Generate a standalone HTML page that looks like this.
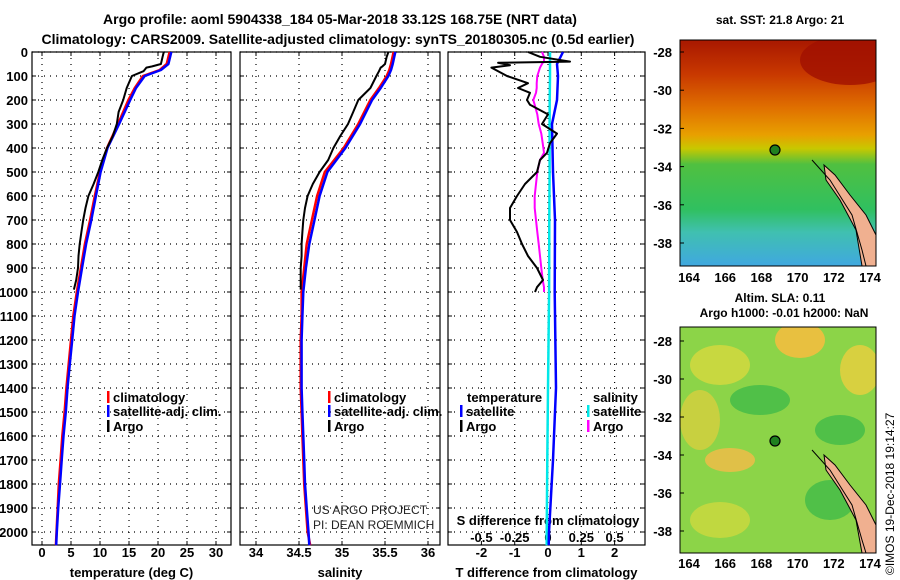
<!DOCTYPE html>
<html><head><meta charset="utf-8"><style>
body{margin:0;background:#fff;}
svg{display:block;font-family:"Liberation Sans",Arial,sans-serif;}
.b{font-weight:bold;font-size:13px;}
</style></head><body>
<svg id="chart" width="900" height="580" viewBox="0 0 900 580">
<defs>
<linearGradient id="sst" x1="0" y1="0" x2="0" y2="1">
<stop offset="0" stop-color="#a81800"/><stop offset="0.15" stop-color="#c83800"/><stop offset="0.3" stop-color="#e07000"/>
<stop offset="0.42" stop-color="#e8a000"/><stop offset="0.48" stop-color="#c8c800"/><stop offset="0.55" stop-color="#50c040"/>
<stop offset="0.75" stop-color="#30c060"/><stop offset="0.85" stop-color="#40c0b0"/><stop offset="1" stop-color="#40a8e0"/>
</linearGradient>
<clipPath id="m1"><rect x="680" y="40" width="196" height="226"/></clipPath>
<clipPath id="m2"><rect x="680" y="327" width="196" height="226"/></clipPath>
</defs>
<text x="340" y="24" text-anchor="middle" class="b" style="font-size:14px">Argo profile: aoml 5904338_184 05-Mar-2018 33.12S 168.75E (NRT data)</text>
<text x="338" y="44" text-anchor="middle" class="b" style="font-size:14px">Climatology: CARS2009. Satellite-adjusted climatology: synTS_20180305.nc (0.5d earlier)</text>
<g id="panels"></g>
<g>
<text x="780" y="24" text-anchor="middle" class="b" style="font-size:12px">sat. SST: 21.8 Argo: 21</text>
<g clip-path="url(#m1)">
<rect x="680" y="40" width="196" height="226" fill="url(#sst)"/>
<ellipse cx="850" cy="60" rx="50" ry="25" fill="#a01000" opacity="0.8"/>
<polygon points="824,165 835,175 850,195 866,215 876,235 876,266 862,266 856,230 840,200 826,180" fill="#f0b090" stroke="#000" stroke-width="1"/>
<polyline points="812,160 830,180 852,215 862,250 866,266" fill="none" stroke="#000" stroke-width="1"/>
<circle cx="775" cy="150" r="5" fill="#208020" stroke="#000" stroke-width="1.2"/>
</g>
<rect x="680" y="40" width="196" height="226" fill="none" stroke="#000"/>
</g>
<g>
<text x="780" y="302" text-anchor="middle" class="b" style="font-size:12px">Altim. SLA: 0.11</text>
<text x="784" y="317" text-anchor="middle" class="b" style="font-size:12px">Argo h1000: -0.01 h2000: NaN</text>
<g clip-path="url(#m2)">
<rect x="680" y="327" width="196" height="226" fill="#8cd448"/>
<ellipse cx="800" cy="340" rx="25" ry="18" fill="#e8c040"/>
<ellipse cx="720" cy="365" rx="30" ry="20" fill="#c8d840"/>
<ellipse cx="860" cy="370" rx="20" ry="25" fill="#d8d040"/>
<ellipse cx="700" cy="420" rx="20" ry="30" fill="#c8d040"/>
<ellipse cx="730" cy="460" rx="25" ry="12" fill="#e0c048"/>
<ellipse cx="760" cy="400" rx="30" ry="15" fill="#50c048"/>
<ellipse cx="840" cy="430" rx="25" ry="15" fill="#50c048"/>
<ellipse cx="830" cy="500" rx="25" ry="20" fill="#50c048"/>
<ellipse cx="720" cy="520" rx="30" ry="18" fill="#c0d840"/>
<polygon points="824,455 835,465 850,485 866,505 876,525 876,553 862,553 856,520 840,490 826,470" fill="#f0b090" stroke="#000" stroke-width="1"/>
<polyline points="812,450 830,470 852,505 862,540 866,553" fill="none" stroke="#000" stroke-width="1"/>
<circle cx="775" cy="441" r="5" fill="#208020" stroke="#000" stroke-width="1.2"/>
</g>
<rect x="680" y="327" width="196" height="226" fill="none" stroke="#000"/>
</g>
<g id="mapaxes"></g>
<text transform="translate(894,575) rotate(-90)" style="font-size:12px">©IMOS 19-Dec-2018 19:14:27</text>
</svg>
<script>
const depthTicks=[0,100,200,300,400,500,600,700,800,900,1000,1100,1200,1300,1400,1500,1600,1700,1800,1900,2000];
const tTicks=[0,5,10,15,20,25,30];
const sTicks=[34,34.5,35,35.5,36];
const dTicks=[-2,-1,0,1,2];
const sdTicks=[-0.5,-0.25,0,0.25,0.5];
const climDepth=[0,50,75,100,150,200,300,400,500,600,700,800,900,1000,1100,1200,1300,1400,1500,1600,1700,1800,1900,2000,2055];
const climTemp=[22,21.5,20.3,17.4,16,14.9,13.1,11.2,10,9.1,8.3,7.4,6.7,6.0,5.4,5.0,4.6,4.2,3.9,3.5,3.2,2.9,2.7,2.5,2.4];
const satTemp=[22.3,21.8,20.5,17.7,16.2,15.2,13.3,11.3,10.1,9.3,8.5,7.6,6.9,6.2,5.6,5.2,4.8,4.4,4.1,3.7,3.4,3.1,2.8,2.55,2.45];
const climSal=[35.6,35.57,35.55,35.52,35.43,35.33,35.19,35.02,34.8,34.71,34.65,34.59,34.56,34.53,34.53,34.52,34.52,34.52,34.53,34.54,34.55,34.56,34.58,34.6,34.63];
const satSal=[35.62,35.59,35.57,35.54,35.45,35.35,35.21,35.04,34.83,34.74,34.68,34.62,34.58,34.55,34.54,34.53,34.53,34.53,34.54,34.55,34.56,34.57,34.59,34.61,34.62];
const argoDepth=[0,20,50,60,65,80,100,150,200,250,300,350,400,450,500,550,600,650,700,750,800,850,900,950,990];
const argoTemp=[21,20.8,20.5,19,18,17.5,15.5,14.6,14,13.2,12.9,12.2,11.2,10.4,9.7,8.9,8.0,7.5,7.1,6.8,6.5,6.3,6.2,5.9,5.5];
const argoSal=[35.54,35.52,35.5,35.47,35.45,35.43,35.4,35.33,35.19,35.13,35.07,34.98,34.9,34.84,34.74,34.66,34.6,34.57,34.55,34.54,34.53,34.53,34.52,34.52,34.52];
const diffDepth=[0,20,40,45,55,65,100,130,150,170,200,220,260,300,340,380,420,450,500,550,600,650,700,750,800,850,900,950,980,1000];
const argoTDiff=[-0.6,-0.24,0.66,-1.5,-1.14,-1.7,-1.23,-0.6,-0.9,-0.54,-0.63,-0.54,0,-0.18,0.27,0.06,-0.03,-0.24,-0.33,-0.69,-0.93,-1.14,-1.14,-0.93,-0.78,-0.6,-0.33,-0.15,-0.33,-0.39];
const argoSDiff=[-0.045,-0.03,-0.03,-0.04,-0.05,-0.06,-0.08,-0.085,-0.085,-0.09,-0.11,-0.1,-0.08,-0.07,-0.05,-0.04,-0.03,-0.06,-0.08,-0.09,-0.1,-0.1,-0.09,-0.08,-0.07,-0.06,-0.05,-0.04,-0.03,-0.03];
const satDepth=[0,50,100,200,300,500,700,1000,1400,1700,2000,2055];
const satTDiff=[0.45,0.27,0.3,0.27,0.12,0.15,0.21,0.2,0.24,0.15,0.03,0.02];
const satSDiff=[0.015,0.015,0.015,0.013,0.012,0.012,0.01,0.008,0.0,-0.005,-0.01,-0.01];
const latTicks=[-28,-30,-32,-34,-36,-38];
const lonTicks=[164,166,168,170,172,174];
const NS='http://www.w3.org/2000/svg';
const yD=d=>52+d*0.24;
const P1={l:32,r:231,x:v=>42+v*5.8};
const P2={l:240,r:440,x:v=>256+(v-34)*86};
const P3={l:448,r:645,x:v=>548+v*33.3};
const xS=v=>548+v*133.2;
const yTop=52,yBot=545;
const g=document.getElementById('panels');
function el(tag,attrs,parent){const e=document.createElementNS(NS,tag);for(const k in attrs)e.setAttribute(k,attrs[k]);(parent||g).appendChild(e);return e;}
function txt(x,y,s,anchor,cls,parent){const t=el('text',{x:x,y:y,'text-anchor':anchor||'middle','class':cls||'b'},parent);t.textContent=s;return t;}
function line(xs,ds,fx,color,w,name){
  const pts=xs.map((v,i)=>fx(v).toFixed(1)+','+yD(ds[i]).toFixed(1)).join(' ');
  const p=el('polyline',{points:pts,fill:'none',stroke:color,'stroke-width':w,'stroke-linejoin':'round'});
  
  
}
function panel(P,ticks,fmt,label,name){
  const pg=el('g',{});
  
  
  depthTicks.forEach(d=>{el('line',{x1:P.l,x2:P.r,y1:yD(d),y2:yD(d),stroke:'#000','stroke-dasharray':'1,5','stroke-width':1.2},pg);
    el('line',{x1:P.l,x2:P.l+4,y1:yD(d),y2:yD(d),stroke:'#000'},pg);el('line',{x1:P.r-4,x2:P.r,y1:yD(d),y2:yD(d),stroke:'#000'},pg);});
  ticks.forEach(v=>{const x=P.x(v);el('line',{x1:x,x2:x,y1:yTop,y2:yBot,stroke:'#000','stroke-dasharray':'1,5','stroke-width':1.2},pg);
    el('line',{x1:x,x2:x,y1:yBot-4,y2:yBot,stroke:'#000'},pg);el('line',{x1:x,x2:x,y1:yTop,y2:yTop+4,stroke:'#000'},pg);
    txt(x,557,fmt(v),'middle','b',pg);});
  el('rect',{x:P.l,y:yTop,width:P.r-P.l,height:yBot-yTop,fill:'none',stroke:'#000','stroke-width':1.2},pg);
  const t=txt((P.l+P.r)/2,577,label,'middle','b',pg);
  
  
}
panel(P1,tTicks,v=>String(v),'temperature (deg C)','temperature-panel');
panel(P2,sTicks,v=>String(v),'salinity','salinity-panel');
panel(P3,dTicks,v=>String(v),'T difference from climatology','difference-panel');
depthTicks.forEach(d=>{const t=txt(28,yD(d)+5,String(d),'end');});
sdTicks.forEach(v=>txt(xS(v),542,String(v)));
txt(548,525,'S difference from climatology');
line(climTemp,climDepth,P1.x,'#ff0000',2.5,'temp-climatology-line');
line(satTemp,climDepth,P1.x,'#0000ff',2.5,'temp-satellite-line');
line(argoTemp,argoDepth,P1.x,'#000',2,'temp-argo-line');
line(climSal,climDepth,P2.x,'#ff0000',2.5,'sal-climatology-line');
line(satSal,climDepth,P2.x,'#0000ff',2.5,'sal-satellite-line');
line(argoSal,argoDepth,P2.x,'#000',2,'sal-argo-line');
line(satSDiff,satDepth,xS,'#00e8e8',2.5,'sdiff-satellite-line');
line(satTDiff,satDepth,P3.x,'#0000ff',2.5,'tdiff-satellite-line');
line(argoSDiff,diffDepth,xS,'#ff00ff',2,'sdiff-argo-line');
line(argoTDiff,diffDepth,P3.x,'#000',2,'tdiff-argo-line');
function leg(x,y,c,s){el('rect',{x:x,y:y-11,width:2.5,height:12,fill:c});txt(x+6,y,s,'start');}
leg(107,402,'#ff0000','climatology');leg(107,416,'#0000ff','satellite-adj. clim.');leg(107,431,'#000','Argo');
leg(328,402,'#ff0000','climatology');leg(328,416,'#0000ff','satellite-adj. clim.');leg(328,431,'#000','Argo');
txt(467,402,'temperature','start');leg(460,416,'#0000ff','satellite');leg(460,431,'#000','Argo');
txt(593,402,'salinity','start');leg(587,416,'#00e8e8','satellite');leg(587,431,'#ff00ff','Argo');
const a1=el('text',{x:313,y:514,style:'font-size:12px;fill:#222'});a1.textContent='US ARGO PROJECT';
const a2=el('text',{x:313,y:529,style:'font-size:12px;fill:#222'});a2.textContent='PI: DEAN ROEMMICH';
const ma=document.getElementById('mapaxes');
[[52,19.1,282],[341,19.0,568]].forEach(([y0,k,ly])=>{
  latTicks.forEach(l=>{const y=y0+(-28-l)*k;txt(672,y+5,String(l),'end','b',ma);
    el('line',{x1:680,x2:684,y1:y,y2:y,stroke:'#000'},ma);});
  lonTicks.forEach(l=>{const x=689+(l-164)*18.1;txt(x,ly,String(l),'middle','b',ma);});
});
</script>
</body></html>
